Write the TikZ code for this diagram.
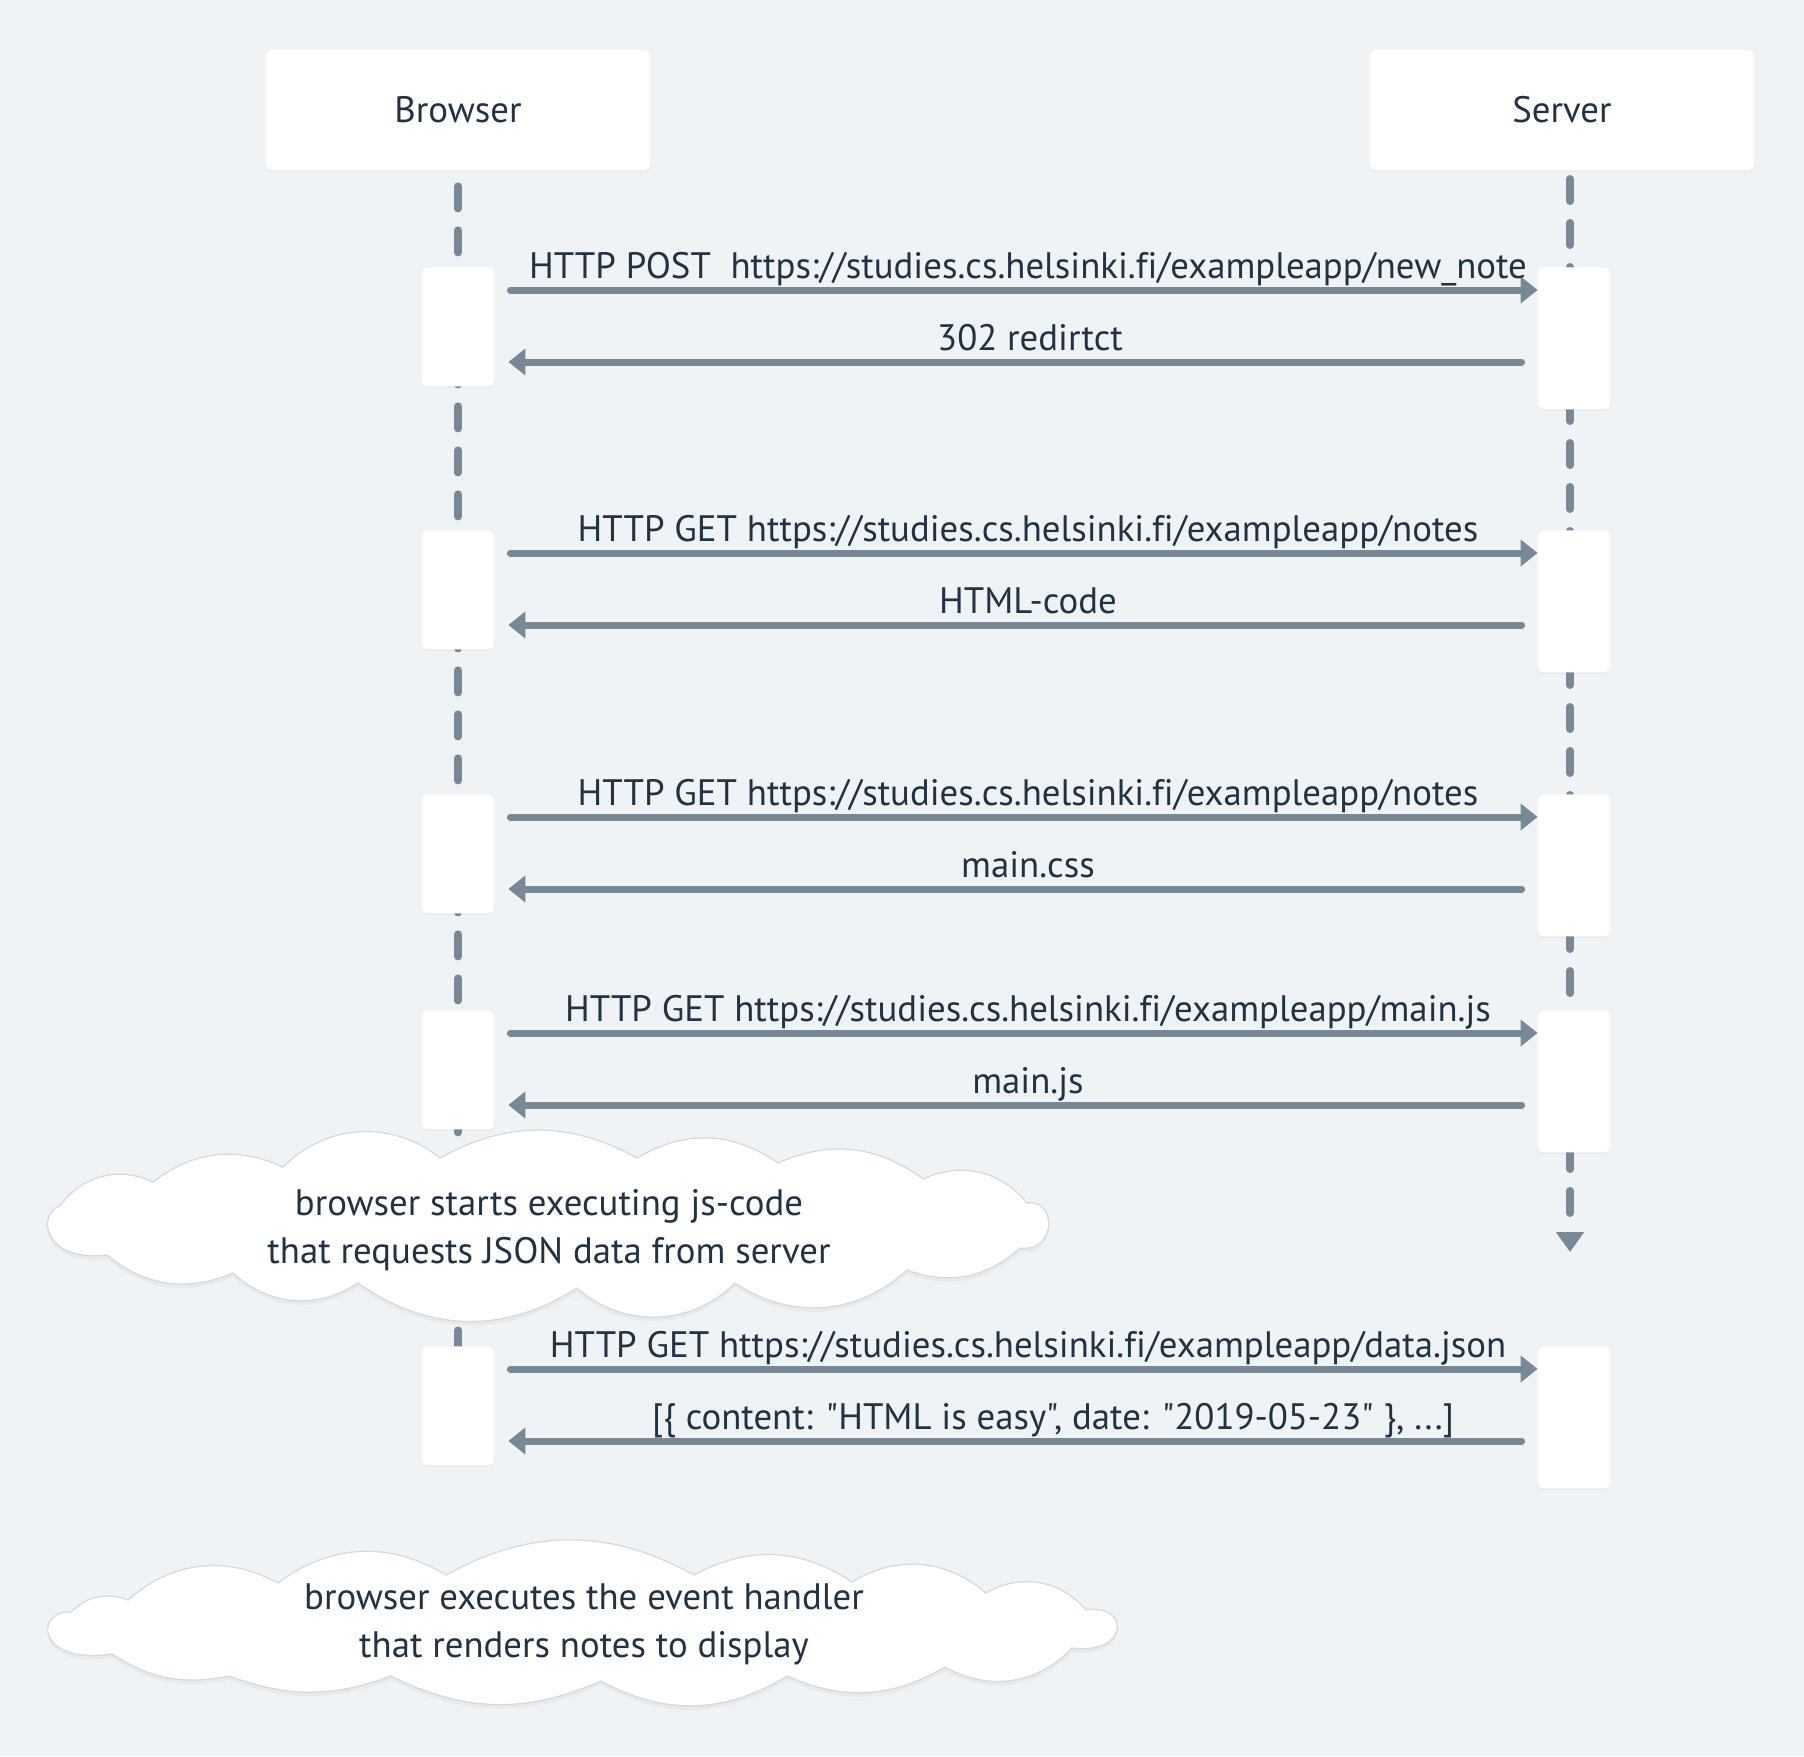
\documentclass[tikz,border=0pt]{standalone}
\usepackage{fontspec}
\setmainfont{PT Sans}[Ligatures={TeXOff,CommonOff}]
\usetikzlibrary{arrows.meta,calc,shadows}
\definecolor{bg}{HTML}{EFF3F6}
\definecolor{wire}{HTML}{798897}
\definecolor{ink}{HTML}{223242}
\definecolor{rim}{HTML}{D3D9DF}

% outlines of the two note clouds (pixel-style coordinates, y grows downwards)
\newcommand\cloudoutlineA{(60,1206) to[bend left=40] (153,1182) to[bend left=31] (283,1167)
  to[bend left=42] (440,1158) to[bend left=29] (637,1158) to[bend left=33] (778,1163)
  to[bend left=30] (923,1179) to[bend left=38] (1027,1203)
  .. controls (1057,1198) and (1057,1253) .. (1020,1248)
  to[bend left=31] (907,1270) to[bend left=38] (735,1283) to[bend left=43] (577,1288)
  to[bend left=34] (358,1283) to[bend left=38] (233,1273) to[bend left=31] (107,1255)
  .. controls (40,1262) and (38,1212) .. (60,1206) -- cycle}
\newcommand\cloudoutlineB{(71,1612) to[bend left=33] (128,1600) to[bend left=35] (278,1583)
  to[bend left=34] (446,1575) to[bend left=29] (694,1575) to[bend left=31] (852,1582)
  to[bend left=36] (986,1593) to[bend left=40] (1086,1610)
  .. controls (1130,1603) and (1130,1655) .. (1072,1648)
  to[bend left=38] (945,1667) to[bend left=27] (787,1676) to[bend left=30] (601,1681)
  to[bend left=25] (391,1676) to[bend left=20] (229,1676) to[bend left=22] (112,1654)
  .. controls (35,1665) and (35,1610) .. (71,1612) -- cycle}

\begin{document}
\begin{tikzpicture}[x=0.5pt,y=-0.5pt,
  every node/.style={text=ink, font=\fontsize{18.4}{24}\selectfont},
  actor/.style={fill=white, rounded corners=3pt, minimum width=192pt, minimum height=60pt,
    inner sep=0pt, drop shadow={shadow xshift=0pt, shadow yshift=-1pt, opacity=0.05}},
  act/.style={fill=white, rounded corners=3pt, minimum width=36pt, inner sep=0pt, anchor=north,
    drop shadow={shadow xshift=0pt, shadow yshift=-1pt, opacity=0.05}},
  bact/.style={act, minimum height=59.5pt},
  sact/.style={act, minimum height=71pt},
  life/.style={draw=wire, line width=4pt, line cap=round, dash pattern=on 11pt off 11pt},
  msg/.style={draw=wire, line width=3.5pt, line cap=round, -{Triangle[length=8.5pt,width=13pt]}},
  lbl/.style={anchor=base, inner sep=0pt},
  note/.style={fill=white, draw=rim, line width=0.6pt},
  noteshade/.style={fill=black, opacity=0.035, transform canvas={yshift=-2pt}}
]
\useasboundingbox[fill=bg] (0,0) rectangle (1804,1756);

% participants
\node[actor] (browser) at (458,110) {Browser};
\node[actor] (server) at (1562,110) {Server};

% lifelines
\coordinate (srvend) at (1570,1252);
\draw[life] ($(browser.south)+(0,16)$) -- (458,1350);
\draw[life, -{Triangle[length=10pt,width=13.5pt]}] (1570,179) -- (srvend);

% activation bars
\foreach \i/\t in {1/267,2/530,3/794,4/1010,5/1346}{
  \node[bact] (ba\i) at (458,\t) {};
  \node[sact] (sa\i) at (1574,\t) {};
}

% messages
\foreach \i in {1,...,5}{
  \draw[msg] ($(ba\i.north east)+(16,23)$) -- ($(sa\i.north west)+(0,23)$);
  \draw[msg] ($(sa\i.north west)+(-16,95)$) -- ($(ba\i.north east)+(14,95)$);
}

% message labels
\node[lbl] (q1) at (1028,278) {HTTP POST\ \ https://studies.cs.helsinki.fi/exampleapp/new\_note};
\node[lbl] (r1) at (1030,350) {302 redirtct};
\node[lbl] (q2) at (1028,541) {HTTP GET https://studies.cs.helsinki.fi/exampleapp/notes};
\node[lbl] (r2) at (1028,613) {HTML-code};
\node[lbl] (q3) at (1028,805) {HTTP GET https://studies.cs.helsinki.fi/exampleapp/notes};
\node[lbl] (r3) at (1028,877) {main.css};
\node[lbl] (q4) at (1028,1021) {HTTP GET https://studies.cs.helsinki.fi/exampleapp/main.js};
\node[lbl] (r4) at (1028,1093) {main.js};
\node[lbl] (q5) at (1028,1357) {HTTP GET https://studies.cs.helsinki.fi/exampleapp/data.json};
\node[lbl] (r5) at (1053,1429) {[\{ content: "HTML is easy", date: "2019-05-23" \}, ...]};

% notes
\fill[noteshade] \cloudoutlineA;
\path[note] \cloudoutlineA;
\node[lbl, align=center] (n1) at (549,1263) {browser starts executing js-code\\that requests JSON data from server};
\fill[noteshade] \cloudoutlineB;
\path[note] \cloudoutlineB;
\node[lbl, align=center] (n2) at (584,1657) {browser executes the event handler\\that renders notes to display};
\end{tikzpicture}
\end{document}
